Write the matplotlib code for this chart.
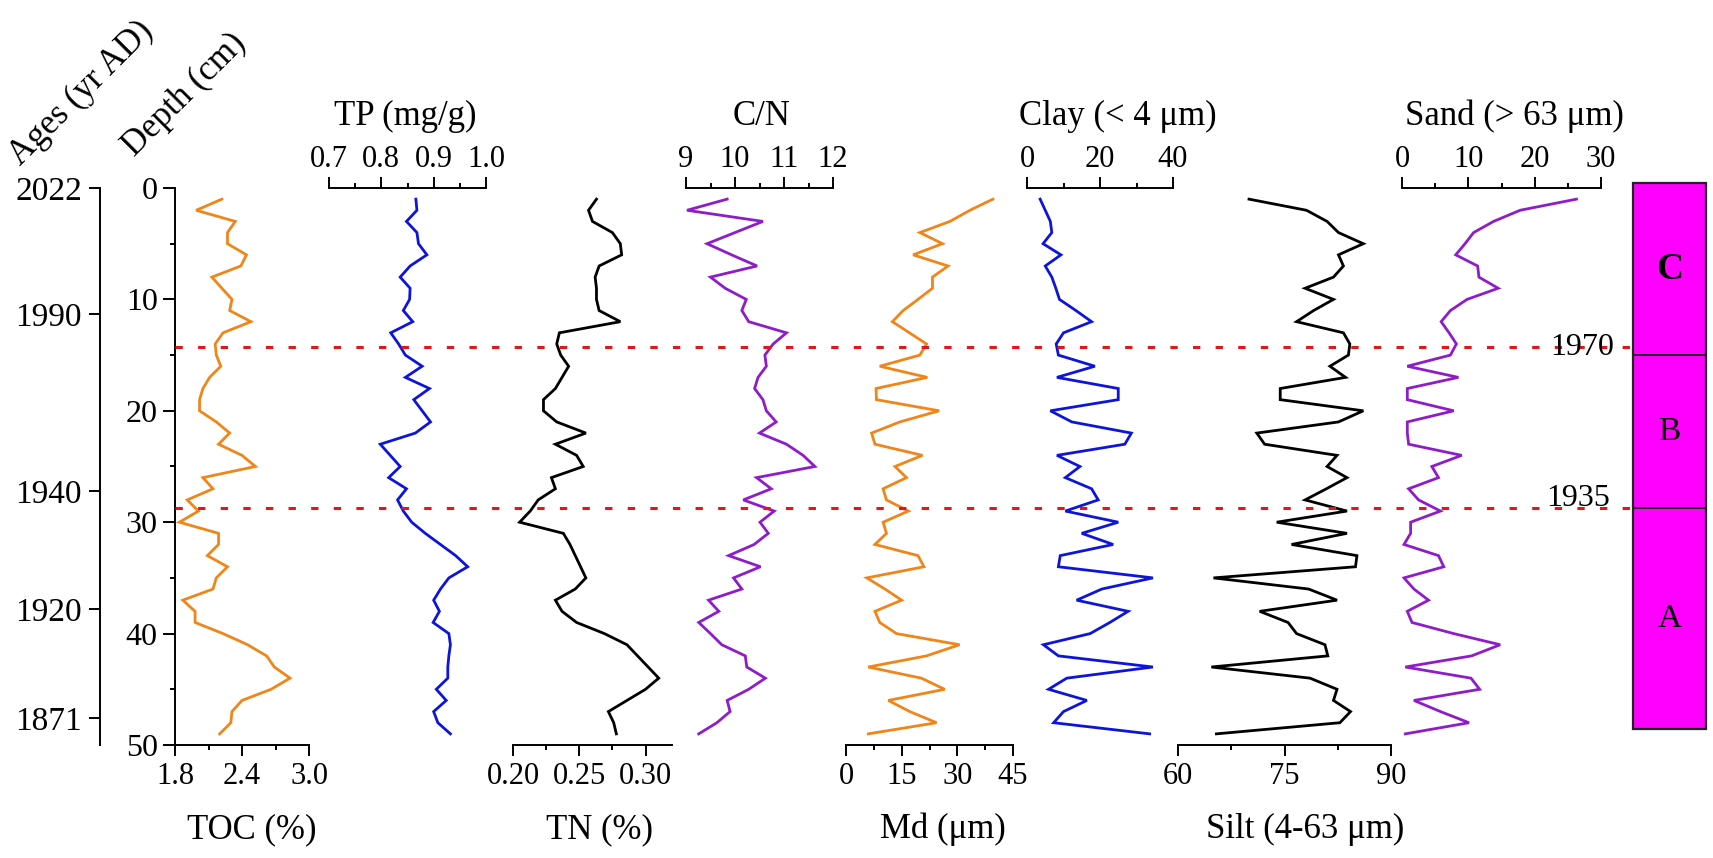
import matplotlib
matplotlib.use('Agg')
import matplotlib.pyplot as plt
from matplotlib.patches import Rectangle

plt.rcParams['font.family'] = ['Liberation Serif', 'DejaVu Serif']

# 深度 (cm)
depth = list(range(1, 50))

toc = [2.22, 1.99, 2.34, 2.27, 2.27, 2.44, 2.39, 2.13, 2.22, 2.31,
       2.29, 2.48, 2.23, 2.16, 2.17, 2.21, 2.11, 2.05, 2.02, 2.02,
       2.17, 2.29, 2.19, 2.40, 2.52, 2.05, 2.14, 1.91, 2.01, 1.84,
       2.19, 2.19, 2.09, 2.27, 2.17, 2.14, 1.87, 1.98, 1.98, 2.23,
       2.45, 2.62, 2.69, 2.83, 2.66, 2.40, 2.31, 2.30, 2.20]
tp = [0.866, 0.868, 0.848, 0.868, 0.871, 0.887, 0.855, 0.836, 0.855, 0.854,
      0.842, 0.860, 0.818, 0.833, 0.846, 0.878, 0.846, 0.892, 0.862, 0.878,
      0.894, 0.865, 0.798, 0.817, 0.836, 0.814, 0.848, 0.831, 0.842, 0.858,
      0.884, 0.913, 0.942, 0.965, 0.929, 0.913, 0.900, 0.911, 0.899, 0.929,
      0.932, 0.929, 0.927, 0.927, 0.905, 0.924, 0.900, 0.908, 0.932]
tn = [0.263, 0.257, 0.260, 0.275, 0.281, 0.282, 0.265, 0.262, 0.263, 0.263,
      0.265, 0.281, 0.235, 0.233, 0.236, 0.242, 0.237, 0.232, 0.223, 0.223,
      0.233, 0.255, 0.232, 0.248, 0.253, 0.229, 0.232, 0.219, 0.213, 0.205,
      0.238, 0.243, 0.247, 0.251, 0.255, 0.247, 0.232, 0.237, 0.248, 0.269,
      0.286, 0.294, 0.302, 0.310, 0.300, 0.286, 0.272, 0.276, 0.278]
cn = [9.84, 9.02, 10.57, 10.00, 9.43, 9.93, 10.45, 9.50, 9.80, 10.23,
      10.14, 10.28, 11.05, 10.78, 10.61, 10.64, 10.47, 10.40, 10.57, 10.64,
      10.84, 10.50, 11.05, 11.39, 11.63, 10.44, 10.74, 10.17, 10.80, 10.51,
      10.68, 10.39, 9.87, 10.52, 9.97, 10.14, 9.46, 9.67, 9.26, 9.50,
      9.73, 10.21, 10.24, 10.62, 10.28, 9.84, 9.90, 9.63, 9.26]
md = [39.6, 33.4, 28.0, 19.9, 26.0, 18.1, 27.5, 23.3, 23.3, 19.4,
      15.4, 12.5, 17.1, 21.7, 19.9, 9.1, 21.9, 8.1, 8.2, 25.1,
      14.5, 6.9, 7.8, 20.6, 13.2, 16.3, 10.0, 10.9, 16.8, 10.0,
      10.9, 7.8, 19.4, 21.0, 5.6, 10.5, 15.0, 7.8, 9.1, 13.6,
      30.6, 21.7, 6.0, 20.3, 26.6, 11.4, 17.2, 24.4, 6.0]
clay = [3.6, 5.0, 6.4, 6.8, 4.4, 9.3, 5.0, 6.8, 7.9, 8.9,
        13.4, 17.7, 10.0, 8.0, 8.6, 18.6, 8.2, 25.0, 25.0, 6.4,
        12.3, 28.6, 26.8, 8.2, 14.5, 10.5, 17.7, 19.5, 10.5, 25.0,
        15.0, 23.6, 9.1, 8.6, 34.5, 20.5, 13.6, 27.7, 22.7, 17.3,
        4.5, 8.6, 34.5, 10.9, 5.9, 16.4, 10.0, 7.3, 33.6]
silt = [70.0, 78.1, 81.0, 82.6, 86.1, 82.6, 83.3, 81.9, 77.9, 81.9,
        79.1, 76.7, 83.3, 84.2, 84.0, 81.4, 83.6, 74.4, 74.4, 86.1,
        82.6, 71.1, 72.2, 82.4, 81.0, 83.8, 80.9, 77.9, 83.8, 73.9,
        83.8, 76.0, 85.2, 85.0, 65.0, 78.4, 82.4, 71.5, 75.5, 76.7,
        80.7, 81.1, 64.7, 78.6, 82.4, 81.9, 84.3, 82.8, 65.4]
sand = [26.3, 17.8, 13.8, 10.8, 9.5, 8.1, 11.4, 11.6, 14.5, 9.8,
        7.3, 5.9, 7.1, 8.2, 7.3, 0.8, 8.5, 0.8, 0.8, 7.8,
        0.8, 0.8, 1.0, 9.0, 4.5, 5.5, 1.0, 2.5, 5.8, 1.3,
        1.3, 0.3, 5.5, 6.3, 0.3, 1.8, 4.0, 0.8, 1.5, 7.8,
        14.8, 10.5, 0.5, 10.4, 11.7, 1.8, 5.8, 10.1, 0.5]

# 年代軸
age_depth = [0, 11.3, 27.2, 37.8, 47.6]
age_labels = ['2022', '1990', '1940', '1920', '1871']

# 境界線と分帯
event_depth = [14.3, 28.7]
event_labels = ['1970', '1935']
zone_edges = [-0.45, 15.0, 28.7, 48.6]
zone_names = ['C', 'B', 'A']

W, H = 1713, 858
Y0, Y1 = 188, 745   # depth 0 / 50 in pixels from top

fig = plt.figure(figsize=(W / 100, H / 100), dpi=100)


def px_axes(x0, x1):
    ax = fig.add_axes([x0 / W, 1 - Y1 / H, (x1 - x0) / W, (Y1 - Y0) / H])
    ax.set_facecolor('none')
    ax.set_ylim(50, 0)
    for s in ax.spines.values():
        s.set_visible(False)
        s.set_linewidth(1.4)
    ax.set_yticks([])
    return ax


def ftext(x, y, s, **kw):
    fig.text(x / W, 1 - y / H, s, **kw)


panels = [
    # data, color, x0, x1, xlim, major, labels, minor, side, title, title x
    (toc, '#F08519', 175, 309, (1.8, 3.0), [1.8, 2.4, 3.0], ['1.8', '2.4', '3.0'],
     [2.1, 2.7], 'bottom', 'TOC (%)', 252),
    (tp, '#0D14DC', 329, 486, (0.7, 1.0), [0.7, 0.8, 0.9, 1.0], ['0.7', '0.8', '0.9', '1.0'],
     [0.75, 0.85, 0.95], 'top', 'TP (mg/g)', 405),
    (tn, 'black', 513, 672, (0.20, 0.32), [0.20, 0.25, 0.30], ['0.20', '0.25', '0.30'],
     [0.225, 0.275], 'bottom', 'TN (%)', 600),
    (cn, '#8E1CC8', 686, 833, (9, 12), [9, 10, 11, 12], ['9', '10', '11', '12'],
     [9.5, 10.5, 11.5], 'top', 'C/N', 762),
    (md, '#F08519', 846, 1013, (0, 45), [0, 15, 30, 45], ['0', '15', '30', '45'],
     [7.5, 22.5, 37.5], 'bottom', 'Md (μm)', 943),
    (clay, '#0D14DC', 1027, 1173, (0, 40), [0, 20, 40], ['0', '20', '40'],
     [10, 30], 'top', 'Clay (< 4 μm)', 1118),
    (silt, 'black', 1178, 1391, (60, 90), [60, 75, 90], ['60', '75', '90'],
     [67.5, 82.5], 'bottom', 'Silt (4-63 μm)', 1305),
    (sand, '#8E1CC8', 1402, 1601, (0, 30), [0, 10, 20, 30], ['0', '10', '20', '30'],
     [5, 15, 25], 'top', 'Sand (> 63 μm)', 1514),
]

for vals, col, x0, x1, lim, major, labs, minor, side, title, tx in panels:
    ax = px_axes(x0, x1)
    ax.plot(vals, depth, color=col, lw=2.0, solid_joinstyle='miter')
    ax.set_xlim(*lim)
    ax.set_xticks(major)
    ax.set_xticklabels(labs)
    ax.set_xticks(minor, minor=True)
    ax.spines[side].set_visible(True)
    if side == 'top':
        ax.xaxis.set_ticks_position('top')
        ax.tick_params(axis='x', which='major', length=8, width=1.4,
                       labelsize=22, pad=2)
        ftext(tx, 125, title, fontsize=25, ha='center', va='baseline')
    else:
        ax.xaxis.set_ticks_position('bottom')
        ax.tick_params(axis='x', which='major', length=8, width=1.4,
                       labelsize=22, pad=4)
        ftext(tx, 838, title, fontsize=25, ha='center', va='baseline')
    ax.tick_params(axis='x', which='minor', length=3.5, width=1.4)
    ax.tick_params(axis='x', direction='out')
    if title == 'TOC (%)':
        ax.spines['left'].set_visible(True)
        ax.set_yticks([0, 10, 20, 30, 40, 50])
        ax.set_yticks([5, 15, 25, 35, 45], minor=True)
        ax.tick_params(axis='y', which='major', direction='out', length=8.5,
                       width=1.4, labelsize=23, pad=4)
        ax.tick_params(axis='y', which='minor', direction='out', length=3.5,
                       width=1.4)

# 年代軸
ax_age = px_axes(100, 101)
ax_age.spines['left'].set_visible(True)
ax_age.set_xticks([])
ax_age.set_yticks(age_depth)
ax_age.set_yticklabels(age_labels)
ax_age.tick_params(axis='y', direction='out', length=8, width=1.4,
                   labelsize=24, pad=5)

# 軸ラベル（斜め）
ftext(20, 166, 'Ages (yr AD)', fontsize=25, rotation=45,
      rotation_mode='anchor', ha='left', va='baseline')
ftext(134, 157, 'Depth (cm)', fontsize=25, rotation=45,
      rotation_mode='anchor', ha='left', va='baseline')

# 分帯
ax_z = px_axes(1633, 1706)
ax_z.set_xlim(0, 1)
ax_z.set_xticks([])
ax_z.add_patch(Rectangle((0, zone_edges[0]), 1, zone_edges[-1] - zone_edges[0],
                         facecolor='#FF00FF', edgecolor='#222222', lw=1.6,
                         clip_on=False))
for e in zone_edges[1:-1]:
    ax_z.plot([0, 1], [e, e], color='#222222', lw=1.4, clip_on=False)
for i, name in enumerate(zone_names):
    mid = (zone_edges[i] + zone_edges[i + 1]) / 2
    if name == 'C':
        ax_z.text(0.5, mid, name, fontsize=27, ha='center', va='center',
                  fontweight='bold')
    else:
        ax_z.text(0.5, mid, name, fontsize=24, ha='center', va='center')

# 赤い点線
ax_ev = px_axes(175, 1633)
ax_ev.set_xlim(0, 1)
ax_ev.set_xticks([])
for d in event_depth:
    ax_ev.plot([0, 1], [d, d], color='#E3161C', lw=2.2, dashes=(2.4, 5.0),
               clip_on=False)
ftext(1550, 355, event_labels[0], fontsize=23, ha='left', va='baseline')
ftext(1546, 506, event_labels[1], fontsize=23, ha='left', va='baseline')

fig.savefig('out.png', dpi=100)
